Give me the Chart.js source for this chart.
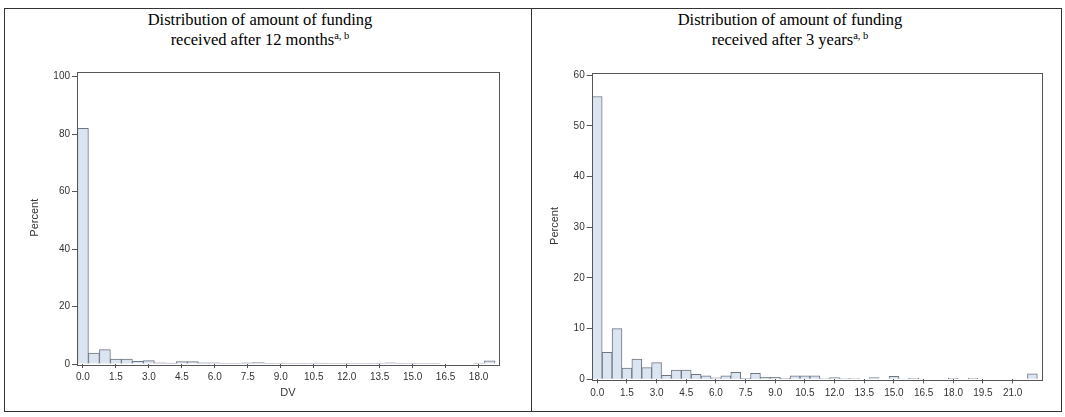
<!DOCTYPE html>
<html lang="en">
<head>
    <meta charset="UTF-8">
    <title>Distribution of amount of funding</title>
    <script src="https://cdn.jsdelivr.net/npm/chart.js"></script>
    <style>
        body { margin: 0; background: #fff; width: 1065px; height: 417px; position: relative; overflow: hidden; }
        .frame { position: absolute; left: 4px; top: 8px; width: 1058px; height: 404px; border: 1px solid #333; box-sizing: border-box; }
        .divider { position: absolute; left: 531px; top: 8px; width: 1px; height: 404px; background: #333; }
        .title { position: absolute; top: 10px; width: 520px; text-align: center;
                 font-family: "Liberation Serif", "Times New Roman", serif; font-size: 16.5px; line-height: 20px; color: #000; }
        .title span { font-size: 10.5px; position: relative; top: -6px; }
        canvas { position: absolute; }
    </style>
</head>
<body>
    <div class="frame"></div>
    <div class="divider"></div>

    <div class="title" style="left: 0px;">Distribution of amount of funding<br>received after 12 months<span>a, b</span></div>
    <div class="title" style="left: 530px;">Distribution of amount of funding<br>received after 3 years<span>a, b</span></div>

    <canvas id="chart12m" width="520" height="345" style="left: 4px; top: 60px;"></canvas>
    <canvas id="chart3y" width="525" height="345" style="left: 533px; top: 60px;"></canvas>

    <script>
        // bin midpoints (DV) and percent per bin
        const bins12m = [0.0, 0.5, 1.0, 1.5, 2.0, 2.5, 3.0, 3.5, 4.0, 4.5, 5.0, 5.5, 6.0, 6.5, 7.0, 7.5, 8.0, 8.5, 9.0, 9.5,
                         10.0, 10.5, 11.0, 11.5, 12.0, 12.5, 13.0, 13.5, 14.0, 14.5, 15.0, 15.5, 16.0, 16.5, 17.0, 17.5, 18.0, 18.5];
        const pct12m = [82.0, 3.8, 5.0, 1.7, 1.7, 0.9, 1.2, 0.4, 0.3, 0.8, 0.8, 0.4, 0.4, 0.2, 0.1, 0.4, 0.5, 0.2, 0.2, 0.1,
                        0.2, 0.1, 0.2, 0.1, 0.2, 0.1, 0.1, 0.1, 0.4, 0.1, 0.2, 0.1, 0.1, 0, 0, 0, 0.1, 1.1];

        const bins3y = [0.0, 0.5, 1.0, 1.5, 2.0, 2.5, 3.0, 3.5, 4.0, 4.5, 5.0, 5.5, 6.0, 6.5, 7.0, 7.5, 8.0, 8.5, 9.0, 9.5,
                        10.0, 10.5, 11.0, 11.5, 12.0, 12.5, 13.0, 13.5, 14.0, 14.5, 15.0, 15.5, 16.0, 16.5, 17.0, 17.5,
                        18.0, 18.5, 19.0, 19.5, 20.0, 20.5, 21.0, 21.5, 22.0];
        const pct3y = [55.8, 5.3, 10.0, 2.2, 4.0, 2.3, 3.3, 0.8, 1.8, 1.8, 1.0, 0.7, 0.3, 0.7, 1.4, 0.2, 1.2, 0.4, 0.4, 0.2,
                       0.7, 0.7, 0.7, 0.15, 0.35, 0.15, 0.15, 0, 0.35, 0, 0.6, 0.1, 0.2, 0, 0, 0,
                       0.2, 0, 0.2, 0, 0, 0, 0, 0, 1.1];

        // tick labels
        const xTicks12m = ['0.0', '1.5', '3.0', '4.5', '6.0', '7.5', '9.0', '10.5', '12.0', '13.5', '15.0', '16.5', '18.0'];
        const xTicks3y = ['0.0', '1.5', '3.0', '4.5', '6.0', '7.5', '9.0', '10.5', '12.0', '13.5', '15.0', '16.5', '18.0', '19.5', '21.0'];
        const yTicks12m = [0, 20, 40, 60, 80, 100];
        const yTicks3y = [0, 10, 20, 30, 40, 50, 60];

        // box around the plot area, SAS style
        const framePlugin = {
            id: 'plotFrame',
            afterDatasetsDraw(chart) {
                const a = chart.chartArea;
                const ctx = chart.ctx;
                ctx.save();
                ctx.strokeStyle = '#555';
                ctx.lineWidth = 1;
                ctx.strokeRect(Math.round(a.left) + 0.5, Math.round(a.top) + 0.5,
                               Math.round(a.right - a.left), Math.round(a.bottom - a.top));
                ctx.restore();
            }
        };

        function makeHistogram(id, bins, pct, xTicks, yTicks, cfg) {
            const tickFont = { family: 'Liberation Sans, Arial, sans-serif', size: 10 };
            return new Chart(document.getElementById(id), {
                type: 'bar',
                data: {
                    datasets: [{
                        data: bins.map((b, i) => ({ x: b, y: pct[i] })),
                        backgroundColor: '#dbe5f1',
                        borderColor: '#6f7682',
                        borderWidth: 1,
                        barPercentage: 1,
                        categoryPercentage: 1
                    }]
                },
                options: {
                    responsive: false,
                    animation: false,
                    devicePixelRatio: 1,
                    layout: { padding: cfg.padding },
                    plugins: { legend: { display: false }, tooltip: { enabled: false } },
                    scales: {
                        x: {
                            type: 'linear',
                            min: cfg.xMin,
                            max: cfg.xMax,
                            offset: false,
                            afterBuildTicks: (axis) => { axis.ticks = xTicks.map(t => ({ value: parseFloat(t) })); },
                            afterFit: (scale) => { scale.height = cfg.xHeight; },
                            grid: { offset: false, drawOnChartArea: false, drawTicks: true, tickLength: 4, color: '#555' },
                            border: { display: false },
                            ticks: {
                                autoSkip: false, maxRotation: 0, padding: cfg.xPad, color: '#333', font: tickFont,
                                callback: (v) => v.toFixed(1)
                            },
                            title: {
                                display: !!cfg.xTitle, text: cfg.xTitle || '', color: '#333',
                                font: { family: 'Liberation Sans, Arial, sans-serif', size: 11 },
                                padding: { top: 0, bottom: 5 }
                            }
                        },
                        y: {
                            min: 0,
                            max: cfg.yMax,
                            afterBuildTicks: (axis) => { axis.ticks = yTicks.map(v => ({ value: v })); },
                            afterFit: (scale) => { scale.width = cfg.yWidth; },
                            grid: { drawOnChartArea: false, drawTicks: true, tickLength: 5, color: '#555' },
                            border: { display: false },
                            ticks: { padding: 2, color: '#333', font: tickFont },
                            title: {
                                display: true, text: 'Percent', color: '#333',
                                font: { family: 'Liberation Sans, Arial, sans-serif', size: 11 },
                                padding: { top: cfg.yTitlePad, bottom: 0 }
                            }
                        }
                    }
                },
                plugins: [framePlugin]
            });
        }

        makeHistogram('chart12m', bins12m, pct12m, xTicks12m, yTicks12m, {
            padding: { top: 11.5, right: 25, bottom: 0, left: 0 },
            xMin: -0.27, xMax: 18.93, yMax: 101.8,
            xHeight: 41, yWidth: 73, xPad: 3, yTitlePad: 24, xTitle: 'DV'
        });

        makeHistogram('chart3y', bins3y, pct3y, xTicks3y, yTicks3y, {
            padding: { top: 12.7, right: 16.7, bottom: 0, left: 0 },
            xMin: -0.28, xMax: 22.45, yMax: 60.5,
            xHeight: 25.7, yWidth: 58.7, xPad: 4, yTitlePad: 15, xTitle: ''
        });
    </script>
</body>
</html>
